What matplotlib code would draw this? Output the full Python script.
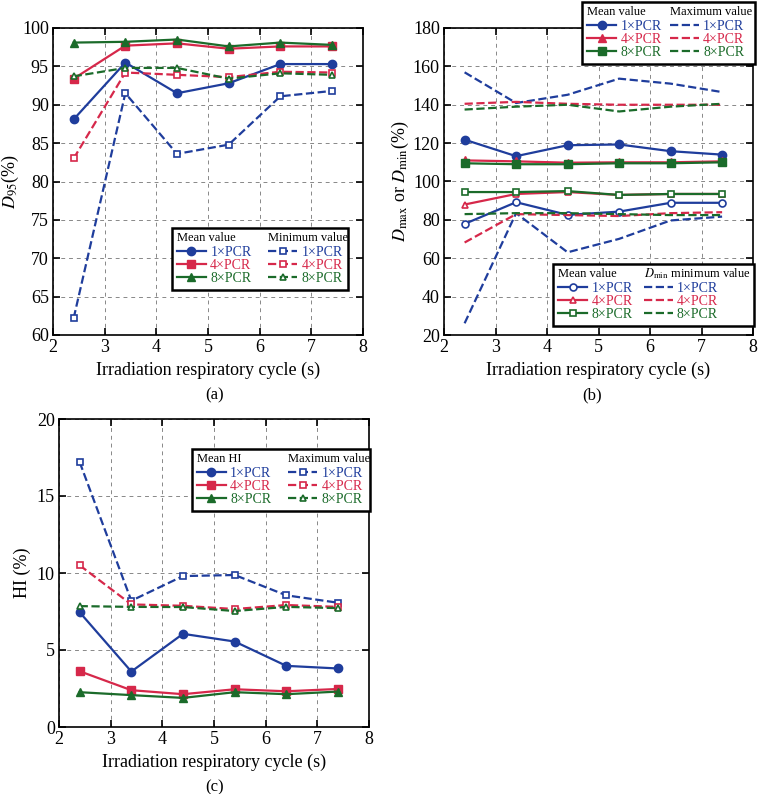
import numpy as np
import matplotlib
matplotlib.use("Agg")
import matplotlib.pyplot as plt
from matplotlib.lines import Line2D
from matplotlib.patches import Rectangle
from matplotlib.transforms import Bbox, IdentityTransform

plt.rcParams['font.family'] = ['Liberation Serif', 'DejaVu Serif']
plt.rcParams['mathtext.fontset'] = 'stix'
plt.rcParams['font.size'] = 11

# Ciclos respiratorios (s)
cycles = [2.4, 3.4, 4.4, 5.4, 6.4, 7.4]
series_names = ['1×PCR', '4×PCR', '8×PCR']

# (a) D95
d95_mean_1 = [88.1, 95.5, 91.5, 92.8, 95.3, 95.3]
d95_mean_4 = [93.4, 97.7, 98.0, 97.3, 97.6, 97.6]
d95_mean_8 = [98.1, 98.2, 98.5, 97.6, 98.1, 97.8]
d95_min_1 = [62.2, 91.5, 83.6, 84.8, 91.1, 91.8]
d95_min_4 = [83.0, 94.2, 93.9, 93.6, 94.3, 94.2]
d95_min_8 = [93.7, 94.8, 94.8, 93.4, 94.1, 93.9]

# (b) Dmax / Dmin
dmax_mean_1 = [121.8, 113.2, 118.9, 119.3, 115.8, 114.0]
dmax_mean_4 = [111.0, 110.5, 109.8, 110.0, 110.0, 110.5]
dmax_mean_8 = [109.5, 109.0, 109.0, 109.5, 109.5, 110.0]
dmax_max_1 = [156.9, 140.9, 145.2, 153.6, 151.0, 146.6]
dmax_max_4 = [140.5, 141.5, 140.5, 140.0, 140.0, 140.0]
dmax_max_8 = [137.5, 139.0, 140.0, 136.5, 139.0, 140.5]
dmin_mean_1 = [77.9, 89.2, 82.6, 84.3, 88.9, 88.9]
dmin_mean_4 = [88.0, 93.5, 94.5, 93.0, 93.5, 93.5]
dmin_mean_8 = [94.5, 94.5, 95.0, 93.0, 93.5, 93.5]
dmin_min_1 = [26.1, 83.5, 63.1, 70.1, 79.7, 81.7]
dmin_min_4 = [68.2, 83.0, 82.5, 82.0, 83.5, 84.0]
dmin_min_8 = [83.0, 83.5, 83.5, 83.0, 82.5, 82.5]

# (c) HI
hi_mean_1 = [7.45, 3.6, 6.05, 5.55, 3.97, 3.8]
hi_mean_4 = [3.62, 2.39, 2.13, 2.45, 2.32, 2.47]
hi_mean_8 = [2.26, 2.07, 1.89, 2.26, 2.13, 2.3]
hi_max_1 = [17.2, 8.2, 9.8, 9.87, 8.55, 8.07]
hi_max_4 = [10.5, 7.96, 7.87, 7.66, 7.92, 7.8]
hi_max_8 = [7.85, 7.8, 7.79, 7.53, 7.8, 7.72]

colors = ['#1f3d9c', '#d6284a', '#1b6b2a']
W, H = 758, 794
LEG_FS = 10
HEAD_FS = 9


def setup_axes(ax, ylim, yticks):
    ax.set_xlim(2, 8)
    ax.set_ylim(*ylim)
    ax.set_xticks(range(2, 9))
    ax.set_yticks(yticks)
    ax.grid(True, linestyle=(0, (4, 4)), color='#888888', linewidth=0.7)
    ax.tick_params(direction='in', top=True, right=True, length=5, width=1.2,
                   labelsize=13, pad=3)
    for s in ax.spines.values():
        s.set_linewidth(1.2)
    ax.set_xlabel('Irradiation respiratory cycle (s)', fontsize=13, labelpad=4)


def make_legend(ax, left_handles, right_handles, anchor, colsp=1.2):
    # fila de cabecera vacia; los titulos se ponen despues
    header = Line2D([], [], linestyle='none')
    handles = [header] + left_handles + [header] + right_handles
    labels = [''] + series_names + [''] + series_names
    leg = ax.legend(handles, labels, ncol=2, loc='upper left', bbox_to_anchor=anchor,
                    fontsize=LEG_FS, handlelength=2.1, handletextpad=0.3, columnspacing=colsp,
                    labelspacing=0.0, borderpad=0.35, frameon=False, borderaxespad=0)
    for i, t in enumerate(leg.get_texts()):
        if i not in (0, 4):
            t.set_color(colors[(i % 4) - 1])
    return leg


def finish_legend(ax, leg, titles, extra_right, renderer):
    hb = leg.legend_handles
    boxes = [leg.get_window_extent(renderer)]
    for idx, title in zip((0, 4), titles):
        line = hb[idx]
        x, y = line.get_transform().transform(line.get_xydata())[0]
        t = fig.text(x / W, y / H, title, ha='left', va='center', fontsize=HEAD_FS, zorder=10)
        boxes.append(t.get_window_extent(renderer))
    bb = Bbox.union(boxes)
    rect = Rectangle((bb.x0, bb.y0), bb.width + extra_right, bb.height,
                     transform=IdentityTransform(), facecolor='white', edgecolor='black',
                     linewidth=1.8, zorder=4.9, clip_on=False)
    ax.add_artist(rect)


fig = plt.figure(figsize=(W / 100, H / 100), dpi=100)

# ---------------- (a) ----------------
ax_a = fig.add_axes([53 / W, 1 - 335 / H, 310 / W, 307 / H])
mean_a = [d95_mean_1, d95_mean_4, d95_mean_8]
min_a = [d95_min_1, d95_min_4, d95_min_8]
mk_mean = ['o', 's', '^']
mk_min = ['s', 's', '^']
h_left, h_right = [], []
for k in range(3):
    h, = ax_a.plot(cycles, mean_a[k], '-', color=colors[k], marker=mk_mean[k], ms=6, lw=1.6)
    h_left.append(h)
    h, = ax_a.plot(cycles, min_a[k], '--', color=colors[k], marker=mk_min[k], ms=5,
                   mfc='white', mew=1.2, lw=1.6)
    h_right.append(h)
setup_axes(ax_a, (60, 100), range(60, 101, 5))
ax_a.set_ylabel(r'$\mathit{D}_{95}$(%)', fontsize=13, labelpad=1)
leg_a = make_legend(ax_a, h_left, h_right, (0.384, 0.349))

# ---------------- (b) ----------------
ax_b = fig.add_axes([444 / W, 1 - 335 / H, 309 / W, 307 / H])
mean_max = [dmax_mean_1, dmax_mean_4, dmax_mean_8]
max_max = [dmax_max_1, dmax_max_4, dmax_max_8]
mean_min = [dmin_mean_1, dmin_mean_4, dmin_mean_8]
min_min = [dmin_min_1, dmin_min_4, dmin_min_8]
mk_b = ['o', '^', 's']
h_top, h_top2, h_bot, h_bot2 = [], [], [], []
for k in range(3):
    h, = ax_b.plot(cycles, mean_max[k], '-', color=colors[k], marker=mk_b[k], ms=6, lw=1.6)
    h_top.append(h)
    h, = ax_b.plot(cycles, max_max[k], '--', color=colors[k], lw=1.6)
    h_top2.append(h)
    h, = ax_b.plot(cycles, mean_min[k], '-', color=colors[k], marker=mk_b[k], ms=5,
                   mfc='white', mew=1.2, lw=1.6)
    h_bot.append(h)
    h, = ax_b.plot(cycles, min_min[k], '--', color=colors[k], lw=1.6)
    h_bot2.append(h)
setup_axes(ax_b, (20, 180), range(20, 181, 20))
ax_b.set_ylabel(r'$\mathit{D}_{\rm max}$ or $\mathit{D}_{\rm min}$(%)', fontsize=13, labelpad=1)
leg_b1 = make_legend(ax_b, h_top, h_top2, (0.447, 1.085), colsp=0.6)
ax_b.add_artist(leg_b1)
leg_b2 = make_legend(ax_b, h_bot, h_bot2, (0.353, 0.231), colsp=0.8)

# ---------------- (c) ----------------
ax_c = fig.add_axes([59 / W, 1 - 727 / H, 310 / W, 308 / H])
mean_c = [hi_mean_1, hi_mean_4, hi_mean_8]
max_c = [hi_max_1, hi_max_4, hi_max_8]
h_left, h_right = [], []
for k in range(3):
    h, = ax_c.plot(cycles, mean_c[k], '-', color=colors[k], marker=mk_mean[k], ms=6, lw=1.6)
    h_left.append(h)
    h, = ax_c.plot(cycles, max_c[k], '--', color=colors[k], marker=mk_min[k], ms=5,
                   mfc='white', mew=1.2, lw=1.6)
    h_right.append(h)
setup_axes(ax_c, (0, 20), range(0, 21, 5))
ax_c.set_ylabel('HI (%)', fontsize=13, labelpad=4)
leg_c = make_legend(ax_c, h_left, h_right, (0.429, 0.903))

# Etiquetas de los paneles
fig.text(215 / W, 1 - 395 / H, '(a)', ha='center', va='center', fontsize=12)
fig.text(592 / W, 1 - 395 / H, '(b)', ha='center', va='center', fontsize=12)
fig.text(215 / W, 1 - 787 / H, '(c)', ha='center', va='center', fontsize=12)

# Titulos de las leyendas y marcos
fig.canvas.draw()
renderer = fig.canvas.get_renderer()
finish_legend(ax_a, leg_a, ('Mean value', 'Minimum value'), 0, renderer)
finish_legend(ax_b, leg_b1, ('Mean value', 'Maximum value'), 3, renderer)
finish_legend(ax_b, leg_b2, ('Mean value', r'$\mathit{D}_{\rm min}$ minimum value'), 4, renderer)
finish_legend(ax_c, leg_c, ('Mean HI', 'Maximum value'), 0, renderer)

fig.savefig('out.png', dpi=100)
print("Figura guardada como out.png")
